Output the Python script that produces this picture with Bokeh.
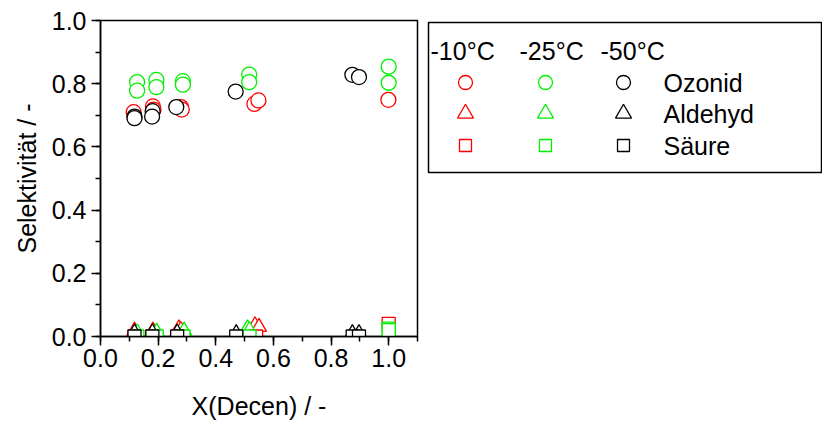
from bokeh.plotting import figure
from bokeh.models import Range1d, SingleIntervalTicker, PrintfTickFormatter
from bokeh.layouts import row
from bokeh.embed import file_html
from bokeh.resources import INLINE
from bokeh.core.properties import value

FONT = "Liberation Sans"
FS = "25px"
RED = "#ff0000"
GREEN = "#00f000"
BLACK = "#000000"

# ---- data ----
ozonid_m10_x = [0.115, 0.182, 0.184, 0.279, 0.282, 0.534, 0.548, 0.999]
ozonid_m10_y = [0.710, 0.728, 0.718, 0.726, 0.718, 0.736, 0.747, 0.749]
ozonid_m25_x = [0.127, 0.127, 0.194, 0.194, 0.286, 0.286, 0.516, 0.516, 1.0, 1.0]
ozonid_m25_y = [0.805, 0.778, 0.812, 0.789, 0.808, 0.797, 0.829, 0.805, 0.854, 0.803]
ozonid_m50_x = [0.118, 0.118, 0.181, 0.179, 0.263, 0.469, 0.874, 0.897]
ozonid_m50_y = [0.696, 0.691, 0.713, 0.696, 0.726, 0.775, 0.828, 0.821]

aldehyd_m10_x = [0.118, 0.182, 0.272, 0.279, 0.536, 0.550]
aldehyd_m10_y = [0.018, 0.018, 0.025, 0.020, 0.035, 0.030]
aldehyd_m25_x = [0.128, 0.195, 0.290, 0.510, 0.517]
aldehyd_m25_y = [0.012, 0.015, 0.018, 0.025, 0.020]
aldehyd_m50_x = [0.118, 0.180, 0.266, 0.471, 0.874, 0.897]
aldehyd_m50_y = [0.012, 0.013, 0.012, 0.010, 0.010, 0.010]

saeure_m10_x = [0.118, 0.180, 0.272, 0.540, 1.0]
saeure_m10_y = [0.0, 0.0, 0.0, 0.0, 0.040]
saeure_m25_x = [0.128, 0.195, 0.288, 0.517, 1.0, 1.0]
saeure_m25_y = [0.0, 0.0, 0.0, 0.0, 0.025, 0.020]
saeure_m50_x = [0.118, 0.180, 0.266, 0.471, 0.875, 0.897]
saeure_m50_y = [0.0, 0.0, 0.0, 0.0, 0.0, 0.0]

temps = ["-10°C", "-25°C", "-50°C"]
species = ["Ozonid", "Aldehyd", "Säure"]
colors = [RED, GREEN, BLACK]
markers = ["circle", "triangle", "square"]

x_label = "X(Decen) / -"
y_label = "Selektivität / -"

# ---- main plot ----
p = figure(width=420, height=423, x_range=Range1d(0, 1.1), y_range=Range1d(0, 1.0),
           output_backend="svg", toolbar_location=None,
           min_border_left=100, min_border_top=20, min_border_bottom=87, min_border_right=3)
p.grid.visible = False
p.outline_line_color = BLACK
p.outline_line_width = 1.5
p.background_fill_color = "white"
p.border_fill_color = "white"

for ax in (p.xaxis[0], p.yaxis[0]):
    ax.ticker = SingleIntervalTicker(interval=0.2, num_minor_ticks=2)
    ax.formatter = PrintfTickFormatter(format="%.1f")
    ax.axis_line_width = 1.5
    ax.axis_line_color = BLACK
    ax.major_tick_line_width = 1.5
    ax.minor_tick_line_width = 1.5
    ax.major_tick_out = 9
    ax.major_tick_in = 0
    ax.minor_tick_out = 5
    ax.minor_tick_in = 0
    ax.major_label_text_font = FONT
    ax.major_label_text_font_size = FS
    ax.major_label_text_color = BLACK
    ax.axis_label_text_font = FONT
    ax.axis_label_text_font_size = FS
    ax.axis_label_text_font_style = "normal"
    ax.axis_label_text_color = BLACK

p.xaxis.axis_label = x_label
p.yaxis.axis_label = y_label
p.xaxis.major_label_standoff = 3
p.yaxis.major_label_standoff = 5
p.xaxis.axis_label_standoff = 22
p.yaxis.axis_label_standoff = 8

tri = [(aldehyd_m10_x, aldehyd_m10_y, RED), (aldehyd_m25_x, aldehyd_m25_y, GREEN),
       (aldehyd_m50_x, aldehyd_m50_y, BLACK)]
circ = [(ozonid_m10_x, ozonid_m10_y, RED), (ozonid_m25_x, ozonid_m25_y, GREEN),
        (ozonid_m50_x, ozonid_m50_y, BLACK)]
sq = [(saeure_m10_x, saeure_m10_y, RED), (saeure_m25_x, saeure_m25_y, GREEN),
      (saeure_m50_x, saeure_m50_y, BLACK)]
for xs, ys, c in tri:
    p.scatter(xs, ys, marker="triangle", size=15, fill_color="white", line_color=c, line_width=1.3)
for xs, ys, c in circ:
    p.scatter(xs, ys, marker="circle", size=15, fill_color="white", line_color=c, line_width=1.3)
for xs, ys, c in sq:
    p.scatter(xs, ys, marker="square", size=13, fill_color="white", line_color=c, line_width=1.3)

# ---- legend panel (frame aligned with main frame: y 20..336) ----
L = figure(width=402, height=423, x_range=Range1d(420, 822), y_range=Range1d(336, 20),
           output_backend="svg", toolbar_location=None,
           min_border_left=0, min_border_right=0, min_border_top=20, min_border_bottom=87)
L.axis.visible = False
L.grid.visible = False
L.outline_line_color = None
L.background_fill_color = "white"
L.border_fill_color = "white"

L.quad(left=[428], right=[821], top=[22], bottom=[172], fill_color=None,
       line_color=BLACK, line_width=1.5)

head_x = [430, 519, 600]
col_x = [465, 545, 623]
row_y = [82, 113, 145]
L.text(x=head_x, y=[50] * 3, text=temps, text_font=value(FONT), text_font_size=FS,
       text_baseline="middle", text_align="left", text_color=BLACK)
L.text(x=[663] * 3, y=row_y, text=species, text_font=value(FONT), text_font_size=FS,
       text_baseline="middle", text_align="left", text_color=BLACK)
for j, m in enumerate(markers):
    size = 14 if m == "circle" else (16 if m == "triangle" else 12)
    L.scatter(col_x, [row_y[j]] * 3, marker=m, size=size, fill_color=None,
              line_color=colors, line_width=1.3)

layout = row(p, L)
open("out.html", "w").write(file_html(layout, INLINE))
